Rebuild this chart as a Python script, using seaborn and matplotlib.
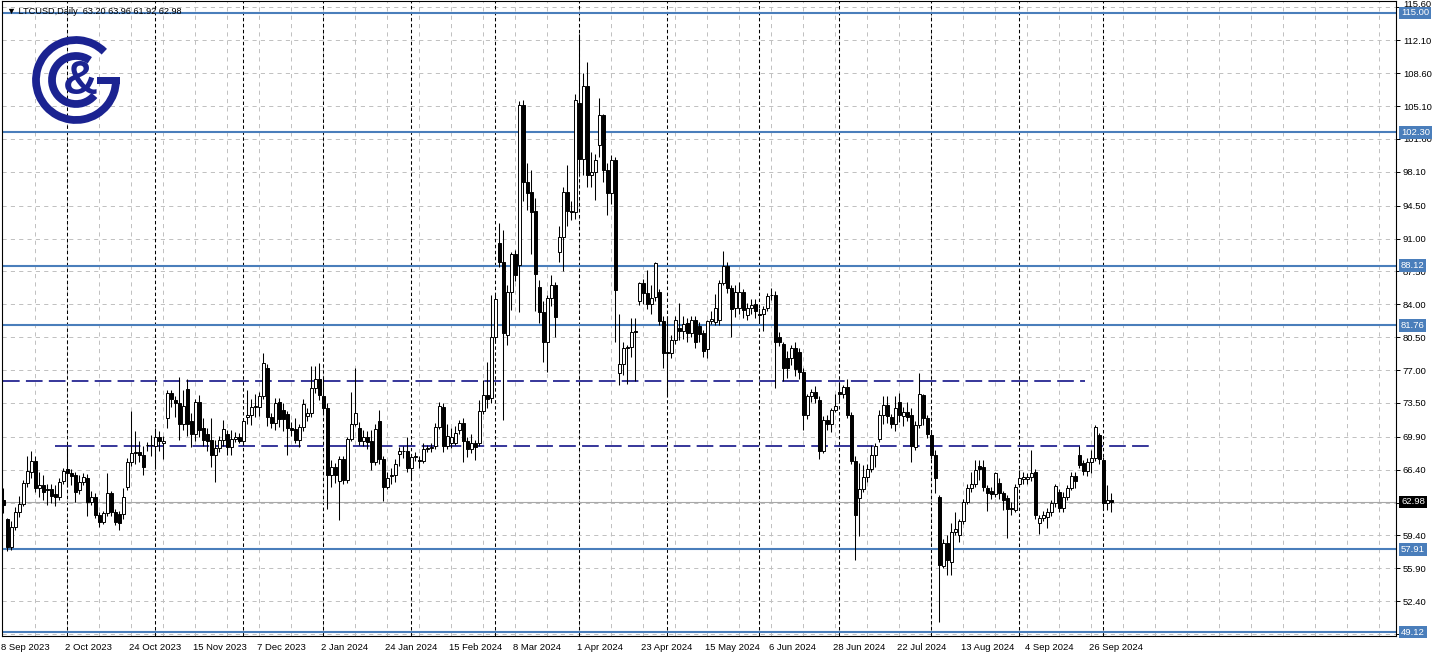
import numpy as np
import pandas as pd
import matplotlib
matplotlib.use("Agg")
import matplotlib.pyplot as plt
import matplotlib.transforms as mtrans
from matplotlib.patches import Arc, Rectangle
import seaborn as sns

# ---------------- data ----------------
symbol_header = "\u25BC LTCUSD,Daily  63.20 63.96 61.92 62.98"
first_date = "2023-09-08"
skipped_days = ["2023-12-25", "2024-01-01"]

opens = [63.2, 61.15, 58.2, 60.26, 61.9, 62.75, 64.95, 66.2, 67.3, 64.4,
         64.77, 64.3, 64.3, 63.8, 63.5, 65.2, 66.5, 66.0, 65.8, 64.2,
         65.1, 65.5, 63.0, 63.5, 61.6, 60.87, 61.75, 63.88, 61.93, 61.7,
         61.7, 64.6, 67.25, 68.2, 68.3, 68.0, 69.0, 69.0, 68.9, 69.9,
         69.2, 71.86, 74.6, 73.8, 73.45, 71.3, 74.95, 71.6, 70.2, 73.6,
         70.8, 70.2, 69.56, 68.0, 68.67, 69.56, 70.2, 68.85, 69.7, 69.9,
         69.4, 71.95, 72.2, 73.1, 73.1, 74.2, 77.2, 72.0, 71.4, 73.6,
         72.8, 72.3, 70.8, 70.7, 69.6, 70.9, 72.1, 72.4, 75.05, 76.0,
         74.2, 73.0, 65.85, 66.65, 65.2, 67.5, 65.3, 69.63, 71.3, 70.8,
         69.4, 69.85, 69.5, 67.25, 71.6, 67.5, 64.5, 65.7, 65.8, 68.07,
         68.4, 68.4, 66.55, 67.7, 67.35, 67.3, 68.6, 68.7, 68.93, 70.9,
         73.1, 68.93, 69.2, 69.28, 70.6, 71.4, 69.4, 68.56, 69.28, 69.2,
         72.68, 74.35, 74.0, 80.55, 90.5, 88.5, 80.7, 85.3, 89.4, 88.2,
         105.2, 96.98, 96.0, 93.9, 85.87, 83.14, 80.0, 84.7, 86.1, 89.6,
         91.2, 96.0, 93.9, 93.85, 105.4, 99.5, 107.2, 97.76, 98.04, 101.0,
         104.1, 98.3, 95.8, 99.35, 76.7, 77.6, 79.3, 79.4, 81.2, 84.3,
         86.3, 85.2, 84.0, 84.8, 85.3, 82.2, 78.9, 78.8, 80.2, 81.5,
         81.2, 82.0, 80.9, 82.3, 81.7, 80.9, 79.2, 82.2, 82.1, 82.3,
         86.3, 88.1, 85.7, 83.6, 83.6, 85.3, 82.9, 83.6, 84.0, 83.0,
         83.0, 83.6, 84.95, 85.0, 80.5, 79.8, 78.25, 78.3, 79.3, 78.9,
         76.8, 72.2, 74.2, 74.7, 73.8, 68.4, 71.7, 71.3, 72.75, 74.7,
         74.4, 75.2, 72.2, 67.35, 63.35, 64.3, 65.6, 66.5, 68.0, 69.63,
         72.2, 73.28, 71.97, 71.3, 73.6, 72.1, 72.5, 72.2, 68.8, 71.16,
         74.35, 71.86, 70.1, 67.96, 63.45, 56.15, 58.6, 56.6, 59.8, 59.45,
         60.9, 63.0, 64.4, 64.87, 66.8, 66.7, 64.4, 64.1, 63.8, 65.0,
         63.9, 63.35, 62.3, 62.1, 64.9, 65.4, 65.4, 65.6, 66.2, 60.68,
         61.3, 61.4, 61.9, 62.8, 64.05, 62.3, 63.45, 64.4, 65.7, 67.96,
         67.07, 66.3, 67.25, 67.6, 70.1, 67.4, 62.8, 63.2]
highs = [64.4, 61.3, 60.9, 62.4, 63.6, 65.3, 67.85, 68.4, 67.85, 66.1,
         65.8, 64.9, 64.9, 64.8, 65.5, 66.6, 68.9, 66.5, 66.1, 65.8,
         66.0, 65.9, 64.1, 63.9, 61.9, 62.0, 66.0, 64.1, 62.2, 62.0,
         64.4, 67.6, 72.65, 70.55, 69.5, 68.9, 69.3, 70.1, 70.8, 70.5,
         70.0, 74.9, 74.9, 74.2, 76.3, 74.9, 76.0, 72.4, 73.9, 74.3,
         71.9, 70.8, 71.9, 69.56, 70.0, 71.7, 70.6, 70.6, 70.4, 70.3,
         71.7, 74.9, 73.9, 74.5, 74.7, 78.8, 77.6, 72.4, 74.0, 74.0,
         73.5, 72.6, 71.5, 71.9, 71.3, 73.9, 73.0, 77.4, 77.4, 77.7,
         76.2, 73.5, 67.4, 67.1, 67.8, 67.9, 69.9, 74.7, 77.2, 71.5,
         70.6, 70.5, 70.6, 71.3, 72.7, 67.8, 66.2, 66.6, 67.5, 68.85,
         68.9, 69.9, 68.1, 68.3, 67.8, 69.2, 69.0, 69.2, 71.4, 73.6,
         73.5, 71.3, 70.8, 71.0, 71.7, 71.9, 69.9, 70.2, 69.6, 73.8,
         75.9, 77.9, 84.99, 85.0, 92.6, 91.9, 86.0, 89.6, 89.8, 105.6,
         105.7, 99.0, 98.3, 95.3, 86.6, 84.3, 85.0, 87.1, 86.4, 92.3,
         96.5, 98.8, 95.0, 106.4, 112.8, 108.6, 109.8, 100.2, 100.0, 106.0,
         104.3, 99.0, 99.9, 99.7, 83.0, 80.0, 79.7, 82.5, 82.5, 86.4,
         86.7, 87.6, 86.0, 88.5, 85.6, 82.7, 82.7, 80.7, 82.7, 84.1,
         82.7, 82.5, 82.7, 82.7, 82.1, 81.3, 82.3, 83.3, 85.1, 86.6,
         89.67, 88.5, 86.0, 86.0, 86.4, 85.6, 84.1, 84.6, 84.6, 83.6,
         83.8, 85.2, 85.7, 85.4, 81.0, 80.0, 79.0, 79.7, 80.0, 79.3,
         77.2, 74.5, 75.0, 75.3, 74.2, 72.1, 72.2, 73.0, 74.5, 75.6,
         75.4, 76.1, 72.5, 67.8, 67.07, 66.9, 67.0, 69.0, 69.2, 72.75,
         74.2, 74.2, 72.3, 74.2, 74.6, 73.1, 73.6, 73.0, 71.6, 76.7,
         74.5, 72.2, 70.5, 68.5, 63.7, 59.0, 59.4, 60.7, 61.9, 61.2,
         63.3, 64.9, 66.2, 67.4, 67.4, 67.4, 64.8, 64.5, 66.2, 65.5,
         64.1, 63.7, 63.0, 64.9, 66.4, 66.1, 66.0, 68.5, 66.5, 61.6,
         62.0, 62.3, 63.2, 64.9, 64.3, 64.0, 64.8, 66.1, 66.1, 68.9,
         67.4, 67.6, 68.5, 71.1, 70.3, 67.7, 64.8, 63.96]
lows = [61.8, 57.7, 57.9, 60.0, 61.4, 62.5, 64.5, 65.5, 64.0, 63.5,
        63.2, 62.6, 62.9, 62.5, 63.2, 64.9, 64.5, 64.8, 63.0, 63.8,
        64.8, 61.5, 62.6, 61.3, 60.3, 60.6, 61.5, 61.5, 60.5, 60.0,
        61.2, 64.2, 66.8, 67.0, 67.2, 65.8, 68.4, 67.8, 66.5, 68.4,
        67.5, 70.8, 73.1, 72.0, 69.55, 70.6, 70.0, 68.85, 69.5, 69.9,
        68.9, 68.4, 66.7, 65.1, 68.3, 68.9, 67.95, 68.0, 69.3, 69.2,
        69.0, 71.3, 71.2, 72.0, 72.1, 73.9, 71.0, 70.8, 70.6, 70.9,
        70.5, 67.95, 70.0, 69.2, 68.85, 70.5, 71.6, 72.0, 74.6, 73.8,
        72.5, 62.2, 64.6, 65.0, 61.05, 64.9, 65.0, 69.4, 71.0, 69.0,
        68.9, 68.6, 66.4, 66.9, 67.0, 63.1, 64.3, 64.9, 65.1, 66.8,
        67.6, 66.2, 65.3, 67.3, 66.6, 67.1, 68.3, 68.3, 68.6, 70.7,
        68.3, 68.6, 68.7, 69.0, 70.2, 67.25, 67.7, 68.2, 67.4, 68.9,
        72.3, 73.0, 73.5, 80.0, 88.0, 71.7, 79.7, 83.4, 86.5, 83.2,
        95.0, 94.0, 89.4, 83.3, 82.0, 77.9, 76.8, 83.8, 80.55, 88.5,
        87.5, 92.3, 93.0, 93.1, 98.0, 97.8, 96.5, 96.5, 95.1, 99.7,
        97.0, 93.5, 94.7, 80.0, 75.4, 76.5, 75.5, 78.4, 75.8, 83.9,
        84.0, 83.5, 83.0, 84.3, 81.8, 77.2, 74.35, 78.3, 79.8, 80.2,
        80.3, 80.0, 80.5, 79.3, 80.0, 78.4, 78.25, 81.9, 81.8, 81.8,
        86.0, 85.2, 80.55, 82.6, 83.0, 82.5, 82.3, 83.0, 82.5, 82.0,
        81.2, 83.3, 84.5, 75.05, 79.6, 75.8, 76.2, 77.5, 76.4, 76.0,
        70.6, 71.8, 73.6, 73.5, 67.5, 68.2, 70.6, 70.4, 72.5, 73.8,
        74.0, 71.9, 67.0, 56.8, 59.3, 64.0, 65.1, 66.2, 66.7, 69.3,
        71.3, 71.4, 70.8, 70.5, 71.5, 71.0, 71.6, 67.25, 68.5, 70.8,
        71.2, 69.8, 67.5, 63.9, 50.2, 55.9, 55.2, 55.2, 59.4, 58.7,
        60.6, 62.7, 64.0, 64.5, 65.3, 64.1, 62.0, 63.3, 63.5, 63.3,
        62.1, 59.1, 61.6, 61.9, 64.5, 64.9, 64.9, 65.2, 61.2, 59.6,
        60.9, 60.2, 61.5, 62.4, 61.9, 61.9, 63.2, 64.2, 64.4, 66.6,
        65.8, 65.7, 66.0, 67.3, 67.0, 62.1, 62.1, 61.92]
closes = [62.6, 58.2, 60.26, 61.93, 62.75, 64.95, 66.26, 67.32, 64.4, 64.77,
          64.06, 64.2, 63.6, 63.5, 65.1, 66.26, 66.0, 65.7, 64.06, 65.1,
          65.65, 63.0, 63.53, 61.58, 60.87, 61.75, 63.88, 61.93, 60.87, 60.76,
          63.46, 67.25, 68.21, 68.3, 67.95, 66.7, 69.0, 69.05, 69.9, 69.4,
          69.45, 74.6, 73.9, 73.5, 71.3, 73.2, 71.3, 70.2, 73.6, 70.6,
          69.6, 69.4, 68.0, 68.67, 69.6, 70.7, 68.85, 69.7, 69.9, 69.4,
          71.6, 72.2, 73.1, 73.15, 74.2, 77.7, 71.97, 71.4, 73.46, 71.8,
          71.8, 70.8, 70.6, 69.6, 70.9, 73.4, 72.45, 75.05, 76.0, 74.35,
          73.0, 65.8, 66.65, 65.85, 67.5, 65.3, 69.63, 71.3, 72.4, 69.4,
          69.85, 69.3, 67.25, 70.7, 67.5, 64.5, 65.55, 65.8, 66.97, 68.4,
          68.4, 66.55, 67.7, 67.85, 67.4, 68.6, 68.7, 68.85, 70.9, 73.2,
          68.93, 70.0, 69.9, 70.3, 71.4, 69.4, 68.56, 69.2, 68.85, 72.68,
          74.35, 73.9, 80.55, 84.6, 88.5, 80.9, 85.3, 89.4, 87.1, 105.2,
          96.98, 95.8, 93.85, 87.2, 83.14, 80.0, 84.7, 86.1, 82.6, 91.2,
          96.0, 93.9, 93.8, 105.7, 99.5, 107.2, 97.76, 98.04, 99.35, 104.1,
          98.3, 95.8, 99.35, 85.5, 77.6, 79.3, 79.4, 81.1, 81.0, 86.3,
          85.2, 84.0, 84.7, 88.36, 82.2, 78.8, 78.8, 80.2, 82.3, 81.2,
          81.9, 80.9, 82.3, 80.0, 80.8, 79.0, 82.2, 82.4, 83.6, 86.3,
          88.1, 85.7, 83.5, 85.3, 85.3, 83.4, 83.6, 83.9, 83.3, 82.9,
          83.5, 84.9, 85.0, 80.0, 80.0, 77.2, 77.2, 79.3, 77.1, 76.8,
          72.2, 74.2, 74.7, 74.0, 68.4, 71.7, 71.3, 72.75, 73.2, 74.4,
          75.2, 72.2, 67.35, 61.6, 64.3, 65.65, 66.5, 67.96, 68.92, 72.2,
          73.28, 72.1, 71.3, 73.0, 72.2, 72.5, 72.05, 68.92, 71.16, 74.45,
          71.86, 70.2, 67.96, 65.5, 56.25, 58.6, 56.8, 59.8, 60.05, 60.9,
          63.0, 64.4, 64.87, 66.36, 66.5, 64.5, 63.95, 63.8, 66.07, 63.9,
          63.2, 62.2, 62.2, 64.5, 65.5, 65.6, 65.65, 66.07, 61.6, 61.29,
          61.6, 61.9, 62.8, 64.65, 62.3, 63.45, 64.4, 65.72, 65.2, 66.9,
          66.3, 67.25, 67.6, 70.9, 67.5, 62.9, 63.15, 62.98]

date_labels = ["8 Sep 2023", "2 Oct 2023", "24 Oct 2023", "15 Nov 2023",
               "7 Dec 2023", "2 Jan 2024", "24 Jan 2024", "15 Feb 2024",
               "8 Mar 2024", "1 Apr 2024", "23 Apr 2024", "15 May 2024",
               "6 Jun 2024", "28 Jun 2024", "22 Jul 2024", "13 Aug 2024",
               "4 Sep 2024", "26 Sep 2024"]
price_ticks = [115.60, 112.10, 108.60, 105.10, 101.60, 98.10, 94.50, 91.00,
               87.50, 84.00, 80.50, 77.00, 73.50, 69.90, 66.40, 62.90,
               59.40, 55.90, 52.40, 48.90]
price_tick_labels = ["115.60", "112.10", "108.60", "105.10", "101.60", "98.10",
                     "94.50", "91.00", "87.50", "84.00", "80.50", "77.00",
                     "73.50", "69.90", "66.40", "", "59.40", "55.90", "52.40", ""]
blue_levels = [115.00, 102.30, 88.12, 81.76, 57.91, 49.12]
dashed_levels = [75.85, 68.92]
dashed_starts = [0.0, 12.9]
dashed_ends = [270.4, 287.2]
last_price = 62.98

# ---------------- style ----------------
sns.set_theme(style="white")
plt.rcParams["font.family"] = ["Liberation Sans", "DejaVu Sans"]
plt.rcParams["lines.scale_dashes"] = False

W, H = 1438, 658
fig = plt.figure(figsize=(W / 100, H / 100), dpi=100)
fig.patch.set_facecolor("white")

L_px, R_px, T_px, B_px = 2, 1396, 1, 636
ax = fig.add_axes([L_px / W, 1 - B_px / H, (R_px - L_px) / W, (B_px - T_px) / H])
ax.set_facecolor("white")

px_per_bar = 4.0
bar0_px = 3.3
ax.set_xlim((L_px - bar0_px) / px_per_bar, (R_px - bar0_px) / px_per_bar)
ppd = 9.396
ax.set_ylim(115 - (B_px - 13) / ppd, 115 + (13 - T_px) / ppd)

n = len(closes)
xs = np.arange(n)
o = np.array(opens); c = np.array(closes); hi = np.array(highs); lo = np.array(lows)

# dates & month separators
all_days = pd.bdate_range(first_date, periods=n + 120)
all_days = all_days[~all_days.isin(pd.to_datetime(skipped_days))]
months = all_days.month
sep_bars = [i for i in range(1, n) if months[i] != months[i - 1]]

grid_col = "#c0c0c0"
for p in price_ticks:
    ax.axhline(p, color=grid_col, lw=0.7, ls=(0, (3, 3)), zorder=0)
for b in range(8, 350, 8):
    ax.axvline(b, color=grid_col, lw=0.7, ls=(0, (3, 3)), zorder=0)
for b in sep_bars:
    ax.axvline(b, color="black", lw=0.75, ls=(0, (2.5, 1.8)), zorder=1)

# levels
blue = "#4a7ebb"
for lv in blue_levels:
    ax.axhline(lv, color=blue, lw=1.5, zorder=2)
ax.axhline(last_price, color="#a8a8a8", lw=0.8, zorder=2)
for lv, s, e in zip(dashed_levels, dashed_starts, dashed_ends):
    ax.hlines(lv, s, e, color="#00007f", lw=1.1, ls=(0, (12, 4.5)), zorder=2)

# candles
up = c >= o
ax.vlines(xs, lo, hi, color="black", lw=0.75, zorder=3)
ax.bar(xs[up], (c - o)[up], bottom=o[up], width=0.66, color="white",
       edgecolor="black", linewidth=0.7, zorder=4)
ax.bar(xs[~up], (o - c)[~up], bottom=c[~up], width=0.66, color="black",
       edgecolor="black", linewidth=0.7, zorder=4)

# axes / ticks
for sp in ax.spines.values():
    sp.set_color("black")
    sp.set_linewidth(0.8)
ax.yaxis.tick_right()
ax.set_yticks(price_ticks)
ax.set_yticklabels(price_tick_labels)
ax.tick_params(axis="y", direction="out", length=3, width=0.7, pad=2,
               labelsize=6.8, colors="black")
# top label sits partly above the frame, as in the reference
up_shift = mtrans.ScaledTranslation(0, 4 / 100, fig.dpi_scale_trans)
top_lab = ax.get_yticklabels()[0]
top_lab.set_transform(top_lab.get_transform() + up_shift)

tick_bars = [16 * k for k in range(len(date_labels))]
ax.set_xticks(tick_bars)
ax.set_xticklabels(date_labels, ha="left")
ax.tick_params(axis="x", direction="out", length=3, width=0.7, pad=2,
               labelsize=6.8, colors="black")
offset = mtrans.ScaledTranslation(-2 / 100, 0, fig.dpi_scale_trans)
for lab in ax.get_xticklabels():
    lab.set_transform(lab.get_transform() + offset)

# price boxes
bt = mtrans.blended_transform_factory(ax.transAxes, ax.transData)
for lv in blue_levels:
    ax.text(1.0 + 5 / (R_px - L_px), lv, f"{lv:.2f}", transform=bt,
            ha="left", va="center", fontsize=6.8, color="white", zorder=10,
            clip_on=False,
            bbox=dict(boxstyle="square,pad=0.18", fc=blue, ec="none"))
ax.text(1.0 + 5 / (R_px - L_px), last_price, f"{last_price:.2f}", transform=bt,
        ha="left", va="center", fontsize=6.8, color="white", zorder=10,
        clip_on=False, bbox=dict(boxstyle="square,pad=0.18", fc="black", ec="none"))

# header text
fig.text(7 / W, 1 - 11 / H, symbol_header, fontsize=6.6, color="black",
         ha="left", va="center")

# logo
lax = fig.add_axes([0, 0, 1, 1], zorder=20)
lax.set_xlim(0, W)
lax.set_ylim(0, H)
lax.axis("off")
lax.patch.set_alpha(0)
navy = "#1b2391"
cx, cy = 76, H - 80
lax.add_patch(Arc((cx, cy), 80, 80, theta1=45, theta2=360, lw=5.6, color=navy))
lax.add_patch(Rectangle((97, cy - 3.5), 23, 7, color=navy, lw=0))
lax.add_patch(Arc((cx, cy), 48, 48, theta1=55, theta2=320, lw=5.6, color=navy))
lax.text(80, cy - 1, "&", fontsize=35, fontweight="bold", color=navy,
         ha="center", va="center", family=["Liberation Sans"])

fig.savefig("out.png", dpi=100)
